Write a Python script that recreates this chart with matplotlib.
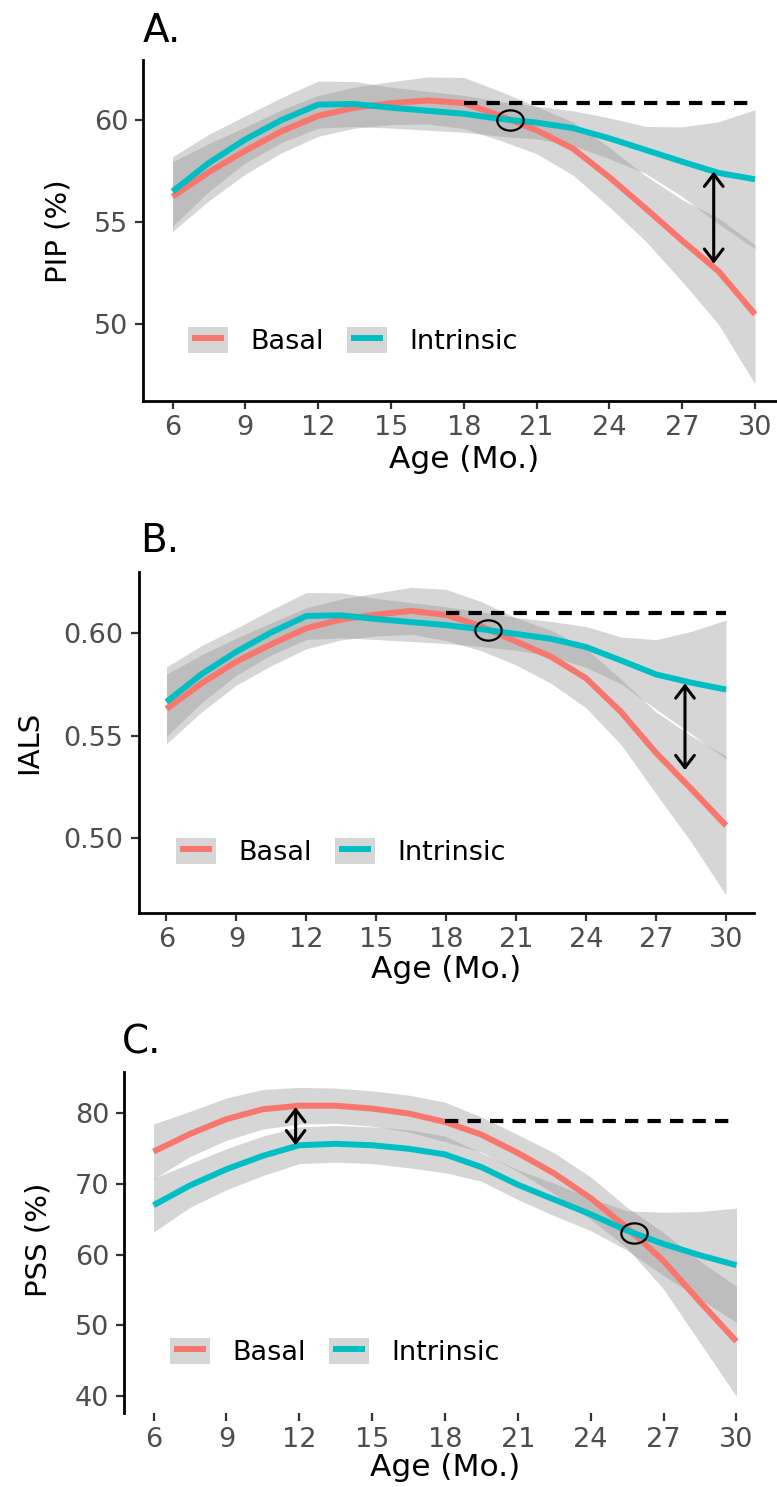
"""
Age trends of PIP, IALS and PSS for the Basal and Intrinsic groups.
Three stacked panels, loess-style mean curves with grey confidence bands.
"""

import numpy as np
import matplotlib.pyplot as plt
from matplotlib.patches import Patch
from matplotlib.lines import Line2D
from matplotlib.legend_handler import HandlerLine2D
from matplotlib.path import Path

# -----------------------------------------------------------------
# Data
# -----------------------------------------------------------------
age = [6, 7.5, 9, 10.5, 12, 13.5, 15, 16.5, 18, 19.5, 21, 22.5, 24, 25.5, 27, 28.5, 30]

pip_basal = [56.25, 57.45, 58.5, 59.45, 60.2, 60.6, 60.82, 60.95, 60.83, 60.2,
             59.5, 58.6, 57.2, 55.67, 54.1, 52.6, 50.5]
pip_basal_se = [1.7, 1.4, 1.15, 1.05, 1.0, 1.0, 1.05, 1.15, 1.25, 1.2,
                1.15, 1.3, 1.45, 1.6, 2.0, 2.6, 3.4]
pip_intr = [56.5, 57.9, 59.05, 60.0, 60.75, 60.78, 60.6, 60.45, 60.3, 60.05,
            59.87, 59.6, 59.1, 58.53, 57.96, 57.41, 57.1]
pip_intr_se = [1.7, 1.4, 1.15, 1.1, 1.15, 1.1, 1.0, 0.95, 0.9, 0.85,
               0.8, 0.85, 1.0, 1.15, 1.7, 2.5, 3.4]

ials_basal = [0.563, 0.5755, 0.5862, 0.5947, 0.6025, 0.6068, 0.6092, 0.611, 0.609,
              0.6035, 0.596, 0.5885, 0.578, 0.5615, 0.5415, 0.524, 0.506]
ials_basal_se = [0.017, 0.014, 0.0115, 0.0105, 0.010, 0.010, 0.0105, 0.0115, 0.0125,
                 0.012, 0.0115, 0.013, 0.0145, 0.016, 0.020, 0.026, 0.034]
ials_intr = [0.5665, 0.580, 0.591, 0.6005, 0.6085, 0.6088, 0.607, 0.6055, 0.604,
             0.602, 0.5997, 0.5973, 0.5933, 0.5867, 0.5799, 0.5759, 0.5725]
ials_intr_se = [0.017, 0.014, 0.0115, 0.011, 0.0115, 0.011, 0.010, 0.0095, 0.009,
                0.0085, 0.008, 0.0085, 0.010, 0.0115, 0.017, 0.025, 0.034]

pss_basal = [74.6, 77.1, 79.2, 80.6, 81.1, 81.1, 80.7, 80.0, 78.8, 77.0,
             74.4, 71.5, 68.0, 63.8, 59.1, 53.3, 47.7]
pss_basal_se = [3.9, 3.2, 3.0, 2.8, 2.6, 2.5, 2.5, 2.6, 2.8, 2.5,
                2.6, 2.9, 3.0, 2.9, 4.0, 5.8, 7.8]
pss_intr = [67.0, 69.8, 72.1, 74.0, 75.5, 75.7, 75.5, 75.0, 74.2, 72.4,
            69.9, 67.8, 65.7, 63.4, 61.5, 59.9, 58.5]
pss_intr_se = [3.8, 3.1, 2.9, 2.8, 2.6, 2.6, 2.6, 2.7, 2.6, 2.0,
               2.1, 2.3, 2.3, 2.8, 4.5, 6.2, 8.1]

# dashed reference level (from 18 mo. on), crossing point, gap arrow (x, low, high)
pip_ref, pip_cross, pip_gap = 60.85, (19.9, 60.0), (28.3, 52.97, 57.47)
ials_ref, ials_cross, ials_gap = 0.6101, (19.8, 0.6016), (28.24, 0.5331, 0.5755)
pss_ref, pss_cross, pss_gap = 78.9, (25.8, 63.0), (11.85, 75.5, 80.9)

ref_start, ref_end = 18, 30
x_ticks = [6, 9, 12, 15, 18, 21, 24, 27, 30]
groups = ['Basal', 'Intrinsic']

# -----------------------------------------------------------------
# Style
# -----------------------------------------------------------------
W, H = 777, 1487
BASAL = '#F8766D'
INTR = '#00BFC4'
BAND = '#999999'
TICK_GREY = '#4D4D4D'

plt.rcParams.update({
    'font.family': 'DejaVu Sans',
    'axes.linewidth': 2.0,
})

# slightly flattened ring used to circle the crossing point
_circ = Path.unit_circle()
RING = Path(_circ.vertices * [1.3, 1.0], _circ.codes)


def px_rect(left, top, right, bottom):
    """Axes rectangle from pixel edges (origin top-left)."""
    return [left / W, 1 - bottom / H, (right - left) / W, (bottom - top) / H]


def draw_panel(ax, series, ref, cross, gap, yticks, ylim, ylabels, legend_at,
               show_bottom=True):
    x = np.array(age)
    # each group: band first, then its line (later bands sit over earlier lines)
    for (mean, se), color in zip(series, (BASAL, INTR)):
        mean, se = np.array(mean), np.array(se)
        ax.fill_between(x, mean - se, mean + se, color=BAND, alpha=0.4, lw=0)
        ax.plot(x, mean, color=color, lw=4.3, solid_capstyle='butt',
                solid_joinstyle='round')

    ax.plot([ref_start, ref_end], [ref, ref], color='black', lw=3,
            linestyle=(0, (3.2, 2.2)), dash_capstyle='butt', zorder=4)
    ax.plot([cross[0]], [cross[1]], marker=RING, ms=19, mfc='none', mec='black',
            mew=1.6, ls='none', zorder=5)
    ax.annotate('', xy=(gap[0], gap[1]), xytext=(gap[0], gap[2]),
                arrowprops=dict(arrowstyle='<->,head_length=0.55,head_width=0.42',
                                lw=2.2, color='black', shrinkA=0, shrinkB=0,
                                mutation_scale=16), zorder=5)

    ax.set_xlim(4.8, 31.2)
    ax.set_ylim(*ylim)
    ax.set_xticks(x_ticks)
    ax.set_yticks(yticks)
    ax.set_yticklabels(ylabels)
    ax.spines['top'].set_visible(False)
    ax.spines['right'].set_visible(False)
    ax.spines['bottom'].set_visible(show_bottom)
    ax.tick_params(axis='both', length=6, width=1.6, color='#333333',
                   labelcolor=TICK_GREY, labelsize=19.5)
    ax.tick_params(axis='x', pad=4)
    ax.tick_params(axis='y', pad=5)

    handles = [(Patch(facecolor=BAND, alpha=0.4, lw=0),
                Line2D([], [], color=c, lw=4.3, solid_capstyle='butt'))
               for c in (BASAL, INTR)]
    ax.legend(handles, groups, ncol=2, loc='center left', bbox_to_anchor=legend_at,
              frameon=False, fontsize=19.5, handlelength=1.48, handleheight=1.1,
              handletextpad=0.81, columnspacing=0.87, borderpad=0,
              borderaxespad=0,
              handler_map={Line2D: HandlerLine2D(numpoints=2, marker_pad=0.15)})


def label_panel(fig, ax, tag, tag_xy, ylabel, ylab_xy, xlab_xy):
    fig.text(tag_xy[0] / W, 1 - tag_xy[1] / H, tag, fontsize=28, va='baseline')
    ax.set_xlabel('Age (Mo.)', fontsize=22.5, va='baseline', ha='center')
    ax.xaxis.set_label_coords(xlab_xy[0] / W, 1 - xlab_xy[1] / H,
                              transform=fig.transFigure)
    ax.set_ylabel(ylabel, fontsize=21, va='center', ha='center')
    ax.yaxis.set_label_coords(ylab_xy[0] / W, 1 - ylab_xy[1] / H,
                              transform=fig.transFigure)


fig = plt.figure(figsize=(W / 100, H / 100), dpi=100)

# A. PIP
ax1 = fig.add_axes(px_rect(143.4, 60, 784.1, 401))
draw_panel(ax1, [(pip_basal, pip_basal_se), (pip_intr, pip_intr_se)],
           pip_ref, pip_cross, pip_gap, [50, 55, 60], (46.26, 62.93),
           ['50', '55', '60'], (0.0696, 0.176))
label_panel(fig, ax1, 'A.', (143, 42), 'PIP (%)', (58, 231), (464, 468))

# B. IALS
ax2 = fig.add_axes(px_rect(138.5, 572, 754, 913))
draw_panel(ax2, [(ials_basal, ials_basal_se), (ials_intr, ials_intr_se)],
           ials_ref, ials_cross, ials_gap, [0.50, 0.55, 0.60], (0.4632, 0.630),
           ['0.50', '0.55', '0.60'], (0.0609, 0.180))
label_panel(fig, ax2, 'B.', (140, 552), 'IALS', (29, 742), (446, 978))

# C. PSS (no x axis line, ticks only)
ax3 = fig.add_axes(px_rect(124.4, 1072, 765.6, 1413))
draw_panel(ax3, [(pss_basal, pss_basal_se), (pss_intr, pss_intr_se)],
           pss_ref, pss_cross, pss_gap, [40, 50, 60, 70, 80], (37.55, 85.88),
           ['40', '50', '60', '70', '80'], (0.0711, 0.180), show_bottom=False)
label_panel(fig, ax3, 'C.', (122, 1053), 'PSS (%)', (39, 1240), (445, 1476))

fig.savefig('out.png', dpi=100, facecolor='white')
